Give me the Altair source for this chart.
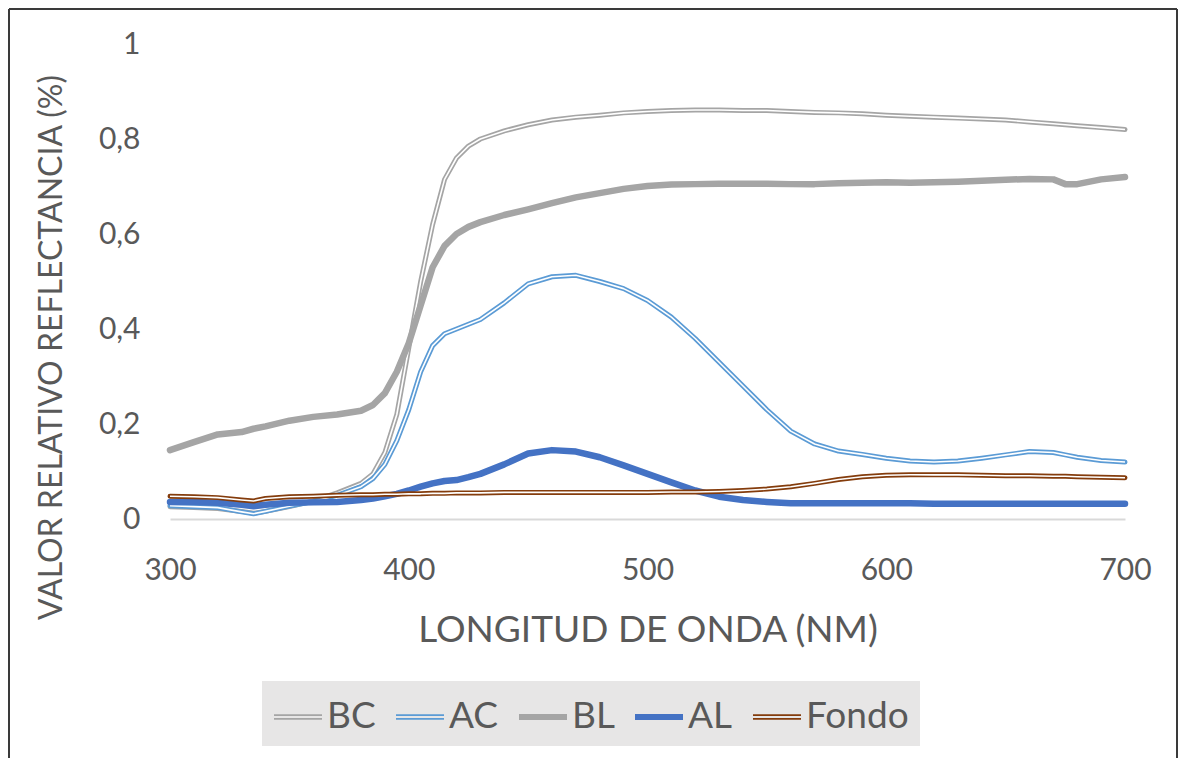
import altair as alt
import pandas as pd

# Wavelength grid (nm) shared by every series
WL = [300, 310, 320, 330, 335, 340, 350, 360, 370, 380, 385, 390, 395, 400,
      405, 410, 415, 420, 425, 430, 440, 450, 460, 470, 480, 490, 500, 510,
      520, 530, 540, 550, 560, 570, 580, 590, 600, 610, 620, 630, 640, 650,
      660, 670, 675, 680, 690, 700]

BC = [0.026, 0.024, 0.022, 0.016, 0.012, 0.016, 0.026, 0.038, 0.055, 0.075, 0.095, 0.14, 0.22, 0.36,
      0.50, 0.62, 0.715, 0.76, 0.785, 0.80, 0.817, 0.83, 0.84, 0.846, 0.85, 0.855, 0.858, 0.86,
      0.861, 0.861, 0.86, 0.86, 0.858, 0.856, 0.855, 0.853, 0.85, 0.848, 0.846, 0.844, 0.842, 0.84,
      0.836, 0.832, 0.83, 0.828, 0.824, 0.82]

AC = [0.028, 0.026, 0.024, 0.015, 0.011, 0.016, 0.027, 0.037, 0.05, 0.068, 0.085, 0.115, 0.165, 0.23,
      0.31, 0.365, 0.39, 0.40, 0.41, 0.42, 0.455, 0.495, 0.51, 0.513, 0.50, 0.485, 0.46, 0.425,
      0.38, 0.33, 0.28, 0.23, 0.185, 0.158, 0.143, 0.136, 0.128, 0.122, 0.12, 0.122, 0.128, 0.135,
      0.142, 0.14, 0.135, 0.13, 0.123, 0.12]

BL = [0.145, 0.162, 0.178, 0.183, 0.19, 0.195, 0.207, 0.215, 0.22, 0.228, 0.24, 0.265, 0.31, 0.37,
      0.45, 0.53, 0.575, 0.60, 0.615, 0.625, 0.64, 0.652, 0.665, 0.677, 0.686, 0.695, 0.701, 0.704,
      0.705, 0.706, 0.706, 0.706, 0.705, 0.705, 0.707, 0.708, 0.709, 0.708, 0.709, 0.71, 0.712, 0.714,
      0.716, 0.715, 0.705, 0.705, 0.715, 0.72]

AL = [0.036, 0.036, 0.034, 0.03, 0.027, 0.03, 0.034, 0.035, 0.036, 0.04, 0.043, 0.048, 0.053, 0.06,
      0.068, 0.075, 0.08, 0.082, 0.088, 0.095, 0.115, 0.138, 0.145, 0.142, 0.13, 0.113, 0.095, 0.077,
      0.06, 0.047, 0.04, 0.036, 0.033, 0.033, 0.033, 0.033, 0.033, 0.033, 0.032, 0.032, 0.032, 0.032,
      0.032, 0.032, 0.032, 0.032, 0.032, 0.032]

FONDO = [0.048, 0.047, 0.045, 0.04, 0.038, 0.043, 0.047, 0.048, 0.05, 0.051, 0.051, 0.052, 0.052, 0.053,
         0.053, 0.054, 0.054, 0.055, 0.055, 0.055, 0.056, 0.056, 0.056, 0.056, 0.056, 0.056, 0.056, 0.057,
         0.057, 0.058, 0.06, 0.063, 0.068, 0.075, 0.083, 0.089, 0.092, 0.093, 0.093, 0.093, 0.092, 0.091,
         0.091, 0.09, 0.09, 0.089, 0.088, 0.087]

SERIES = ["BC", "AC", "BL", "AL", "Fondo"]
VALUES = {"BC": BC, "AC": AC, "BL": BL, "AL": AL, "Fondo": FONDO}
COLORS = ["#A5A5A5", "#5B9BD5", "#A5A5A5", "#4472C4", "#843C0C"]
OUTER_WIDTH = {"BC": 5, "AC": 5, "BL": 6.5, "AL": 6.5, "Fondo": 5}
DOUBLE = {"BC", "AC", "Fondo"}

# legend keys: two parallel strokes for compound lines, a dense band for solid ones
KEY_DOUBLE = "M-1,-0.075H1M-1,0.075H1"
KEY_SOLID = "M-1,-0.09H1M-1,-0.045H1M-1,0H1M-1,0.045H1M-1,0.09H1"
KEYS = [KEY_DOUBLE if s in DOUBLE else KEY_SOLID for s in SERIES]

rows = []
for s in SERIES:
    for w, v in zip(WL, VALUES[s]):
        rows.append({"wl": w, "val": v, "serie": s})
df = pd.DataFrame(rows)

FONT = "Lato"
TXT = "#595959"

x_enc = alt.X("wl:Q", scale=alt.Scale(domain=[300, 700], nice=False),
              axis=alt.Axis(values=[300, 400, 500, 600, 700], title="LONGITUD DE ONDA (NM)",
                            grid=False, ticks=False, domain=True, domainColor="#D9D9D9",
                            domainWidth=2, labelFontSize=30, labelColor=TXT, labelFont=FONT,
                            labelPadding=36, labelFlush=False, titleFontSize=37, titleColor=TXT,
                            titleFont=FONT, titleFontWeight="normal", titlePadding=27))
y_enc = alt.Y("val:Q", scale=alt.Scale(domain=[0, 1], nice=False),
              axis=alt.Axis(values=[0, 0.2, 0.4, 0.6, 0.8, 1], title="VALOR RELATIVO REFLECTANCIA (%)",
                            labelExpr="replace(format(datum.value, '~g'), '.', ',')",
                            grid=False, ticks=False, domain=False, labelFontSize=30,
                            labelColor=TXT, labelFont=FONT, labelPadding=30, titleFontSize=32,
                            titleColor=TXT, titleFont=FONT, titleFontWeight="normal",
                            titlePadding=30, titleY=303))

legend = alt.Legend(title=None, orient="none", legendX=92, legendY=637, direction="horizontal",
                    columns=5, symbolSize=2304, symbolStrokeWidth=1.7, symbolOpacity=1,
                    labelFontSize=37, labelFont=FONT, labelColor=TXT, labelOffset=4,
                    columnPadding=16, padding=11, fillColor="#E7E6E6")

color_scale = alt.Scale(domain=SERIES, range=COLORS)
key_scale = alt.Scale(domain=SERIES, range=KEYS)

base = alt.Chart(df)
layers = []
for s in SERIES:
    sub = base.transform_filter(alt.datum.serie == s)
    layers.append(sub.mark_line(strokeJoin="round", strokeCap="round").encode(
        x=x_enc, y=y_enc, strokeWidth=alt.value(OUTER_WIDTH[s]),
        color=alt.Color("serie:N", scale=color_scale, legend=legend)))
    if s in DOUBLE:
        layers.append(sub.mark_line(strokeJoin="round").encode(
            x=x_enc, y=y_enc, strokeWidth=alt.value(1.6), color=alt.value("white")))

# carrier of the legend key shapes (draws nothing)
keys_layer = base.transform_filter("false").mark_point(opacity=1, filled=False).encode(
    x=x_enc, y=y_enc,
    color=alt.Color("serie:N", scale=color_scale, legend=legend),
    shape=alt.Shape("serie:N", scale=key_scale, legend=legend))

# outer frame around the figure
one = alt.Data(values=[{}])
frame_top = alt.Chart(one).mark_rule(color="#3a3a3a", strokeWidth=2).encode(
    x=alt.value(-161), x2=alt.value(1007), y=alt.value(-35))
frame_left = alt.Chart(one).mark_rule(color="#3a3a3a", strokeWidth=2).encode(
    x=alt.value(-161), y=alt.value(-35), y2=alt.value(720))
frame_right = alt.Chart(one).mark_rule(color="#3a3a3a", strokeWidth=2).encode(
    x=alt.value(1007), y=alt.value(-35), y2=alt.value(720))

chart = alt.layer(*layers, keys_layer, frame_top, frame_left, frame_right).properties(
    width=955, height=475,
    autosize=alt.AutoSizeParams(type="none"),
    padding={"left": 170, "top": 44, "right": 53, "bottom": 239},
    background="white",
).configure_view(stroke=None)

chart.save("out.html", embed_options={"renderer": "svg", "actions": False})
